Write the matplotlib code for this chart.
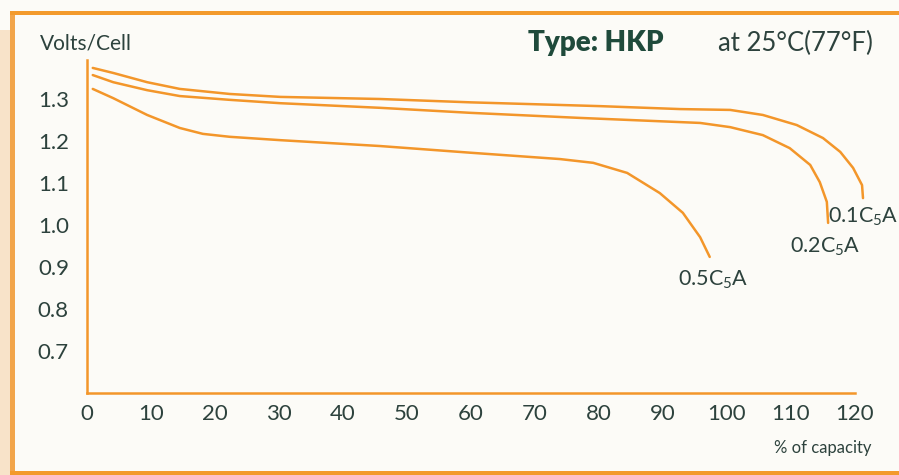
import matplotlib
matplotlib.use("Agg")
import matplotlib.pyplot as plt
from matplotlib.patches import Rectangle

# discharge curves (% of capacity, volts per cell)
cap_01 = [0.9, 4.1, 9.4, 14.5, 22.3, 30.2, 45.8, 60, 80.2, 92.7, 100.5, 105.6, 110.9, 115.0, 117.7, 119.7, 121.1, 121.25]
volt_01 = [1.374, 1.362, 1.340, 1.324, 1.312, 1.305, 1.300, 1.292, 1.283, 1.276, 1.274, 1.262, 1.238, 1.207, 1.174, 1.136, 1.095, 1.064]

cap_02 = [0.9, 4.1, 9.4, 14.5, 22.3, 30.2, 45.8, 60, 77, 95.8, 100.5, 105.6, 109.8, 113.0, 114.5, 115.6, 115.8]
volt_02 = [1.357, 1.340, 1.321, 1.307, 1.298, 1.290, 1.279, 1.267, 1.255, 1.243, 1.233, 1.214, 1.183, 1.143, 1.102, 1.055, 1.005]

cap_05 = [0.9, 4.1, 9.4, 14.5, 18.1, 22.3, 30.2, 45.8, 60, 73.9, 79.1, 84.4, 89.5, 93.1, 95.8, 97.3]
volt_05 = [1.324, 1.302, 1.262, 1.231, 1.217, 1.210, 1.202, 1.188, 1.172, 1.157, 1.148, 1.124, 1.076, 1.029, 0.971, 0.924]

series_labels = ["0.1C$_5$A", "0.2C$_5$A", "0.5C$_5$A"]
label_pos = [(115.8, 1.019), (109.8, 0.948), (92.3, 0.869)]

x_ticks = list(range(0, 121, 10))
y_ticks = [0.7, 0.8, 0.9, 1.0, 1.1, 1.2, 1.3]

ORANGE = "#f3962a"
TEXT = "#2d423d"
BG = "#fcfbf7"

plt.rcParams["font.family"] = ["Lato", "DejaVu Sans"]
plt.rcParams["mathtext.fontset"] = "custom"
plt.rcParams["mathtext.rm"] = "Lato"
plt.rcParams["mathtext.it"] = "Lato"

W, H = 899, 475
fig = plt.figure(figsize=(W / 100, H / 100), dpi=100, facecolor=BG)

# scanned page border
fig.patches.append(Rectangle((0, 0), 10 / W, (H - 30) / H, transform=fig.transFigure,
                             facecolor="#f8e3c9", edgecolor="none"))
fig.patches.append(Rectangle((10 / W, 0), 5 / W, (H - 11) / H, transform=fig.transFigure,
                             facecolor="#f2a54a", edgecolor="none"))
fig.patches.append(Rectangle((10 / W, (H - 15) / H), 1 - 10 / W, 4 / H, transform=fig.transFigure,
                             facecolor="#f39a2c", edgecolor="none"))
fig.patches.append(Rectangle((10 / W, 0), 1 - 10 / W, 4 / H, transform=fig.transFigure,
                             facecolor="#f39a2c", edgecolor="none"))

# axes placed so that 0 % sits at x=87px and 0.6 V at y=393px
x0, y0 = 87, 393
px_x, px_y = 6.4, 420
ax = fig.add_axes([x0 / W, (H - y0) / H, 125 * px_x / W, 0.8 * px_y / H])
ax.set_facecolor("none")
ax.set_xlim(0, 125)
ax.set_ylim(0.6, 1.4)

for cap, volt in [(cap_01, volt_01), (cap_02, volt_02), (cap_05, volt_05)]:
    ax.plot(cap, volt, color=ORANGE, lw=1.8, solid_capstyle="round", solid_joinstyle="round",
            clip_on=False)

for lab, (lx, ly) in zip(series_labels, label_pos):
    ax.text(lx, ly, lab, fontsize=15.5, color=TEXT, va="center", ha="left")

for s in ["top", "right"]:
    ax.spines[s].set_visible(False)
for s in ["left", "bottom"]:
    ax.spines[s].set_color(ORANGE)
    ax.spines[s].set_linewidth(1.8)
ax.spines["bottom"].set_bounds(0, 120)
ax.spines["left"].set_bounds(0.6, 1.393)

ax.set_xticks(x_ticks)
ax.set_xticklabels([str(t) for t in x_ticks])
ax.set_yticks(y_ticks)
ax.set_yticklabels([f"{t:.1f}" for t in y_ticks])
ax.tick_params(axis="x", length=0, pad=8, labelsize=16, labelcolor=TEXT)
ax.tick_params(axis="y", length=0, pad=13, labelsize=16, labelcolor=TEXT)

# header and axis captions
fig.text(40 / W, 1 - 43 / H, "Volts/Cell", fontsize=15, color=TEXT, va="center", ha="left")
fig.text(528 / W, 1 - 43 / H, "Type: HKP", fontsize=20, fontweight="heavy", color="#1f4a3b",
         va="center", ha="left")
fig.text(873 / W, 1 - 43 / H, "at 25°C(77°F)", fontsize=18.5, color=TEXT, va="center", ha="right")
fig.text(872 / W, 1 - 448 / H, "% of capacity", fontsize=12, color=TEXT, va="center", ha="right")

fig.savefig("out.png", dpi=100, facecolor=BG)
